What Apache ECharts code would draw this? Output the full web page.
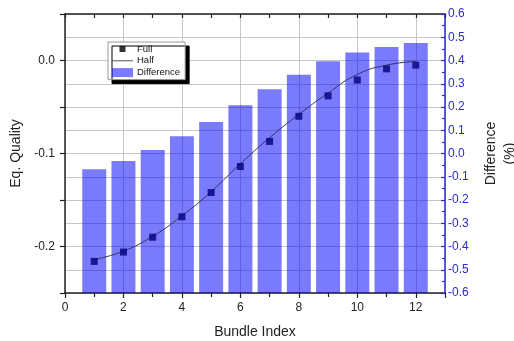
<!DOCTYPE html>
<html>
<head>
<meta charset="utf-8">
<script src="https://cdn.jsdelivr.net/npm/echarts@6/dist/echarts.min.js"></script>
<style>
html,body{margin:0;padding:0;background:#fff;}
#chart{width:514px;height:341px;}
</style>
</head>
<body>
<div id="chart"></div>
<script>
// ---- data ----
const bundleIndex = [1, 2, 3, 4, 5, 6, 7, 8, 9, 10, 11, 12];
const fullValues = [-0.216, -0.206, -0.190, -0.168, -0.142, -0.114, -0.087, -0.060, -0.038, -0.021, -0.009, -0.005];
const halfValues = [-0.214, -0.205, -0.189, -0.167, -0.141, -0.111, -0.083, -0.058, -0.035, -0.015, -0.005, -0.001];
const diffValues = [-0.068, -0.032, 0.015, 0.074, 0.135, 0.207, 0.276, 0.339, 0.397, 0.434, 0.458, 0.475];
const xRange = [0, 13];
const leftRange = [-0.25, 0.05];
const rightRange = [-0.6, 0.6];

const FONT = 'Arial, "Liberation Sans", sans-serif';
const BLUE = '#2a2ad8';
const BAR_UNITS = 0.82;

const chart = echarts.init(document.getElementById('chart'), null, {renderer: 'canvas'});

const option = {
  backgroundColor: '#fff',
  animation: false,
  textStyle: {fontFamily: FONT},
  grid: {left: 65, right: 69, top: 14, bottom: 48, containLabel: false, outerBoundsMode: 'none'},
  legend: {
    orient: 'vertical',
    left: 108, top: 42,
    padding: [2, 5, 2, 4],
    itemWidth: 21, itemHeight: 9, itemGap: 1.8,
    backgroundColor: '#fff',
    borderColor: '#999', borderWidth: 1,
    shadowColor: '#000', shadowBlur: 0, shadowOffsetX: 4, shadowOffsetY: 4,
    textStyle: {fontSize: 9.5, color: '#111', fontFamily: FONT, padding: [0, 0, 0, -1]},
    data: [
      {name: 'Full', icon: 'path://M0,0M21,9M7.5,1.5h6v6h-6z', itemStyle: {color: '#000'}},
      {name: 'Half', icon: 'path://M0,0M21,9M0,4h21v1h-21z', itemStyle: {color: '#555'}},
      {name: 'Difference', icon: 'rect'}
    ]
  },
  xAxis: [{
    type: 'value', position: 'bottom',
    min: xRange[0], max: xRange[1], interval: 2,
    name: 'Bundle Index', nameLocation: 'middle', nameGap: 32,
    nameTextStyle: {fontSize: 14, color: '#222', fontFamily: FONT},
    axisLine: {show: true, onZero: false, lineStyle: {color: '#222', width: 1.5}},
    axisTick: {show: true, inside: false, length: 5, lineStyle: {color: '#222', width: 1.2}},
    minorTick: {show: true, splitNumber: 2, length: 4, lineStyle: {color: '#222', width: 1.2}},
    axisLabel: {fontSize: 12, color: '#222', margin: 9, showMaxLabel: false, fontFamily: FONT},
    splitLine: {show: true, lineStyle: {color: '#c6c6c6', width: 1}}
  }, {
    type: 'value', position: 'top',
    min: xRange[0], max: xRange[1], interval: 1,
    axisLine: {show: true, onZero: false, lineStyle: {color: '#222', width: 1.5}},
    axisTick: {show: true, inside: true, length: 4, lineStyle: {color: '#222', width: 1.2}},
    axisLabel: {show: false},
    splitLine: {show: false}
  }],
  yAxis: [{
    type: 'value', position: 'left',
    min: leftRange[0], max: leftRange[1], interval: 0.05,
    name: 'Eq. Quality', nameLocation: 'middle', nameGap: 38, nameRotate: 90,
    nameTextStyle: {fontSize: 14, color: '#222', fontFamily: FONT},
    axisLine: {show: true, onZero: false, lineStyle: {color: '#222', width: 1.5}},
    axisTick: {show: true, inside: false, length: 5, lineStyle: {color: '#222', width: 1.2}},
    axisLabel: {
      fontSize: 12, color: '#222', margin: 10, fontFamily: FONT,
      formatter: function (v) {
        const k = Math.round(v * 100);
        if (k % 10 !== 0) return '';
        return (k / 100).toFixed(1);
      }
    },
    splitLine: {show: false}
  }, {
    type: 'value', position: 'right',
    min: rightRange[0], max: rightRange[1], interval: 0.1,
    name: 'Difference\n(%)', nameLocation: 'middle', nameGap: 37, nameRotate: 90,
    nameTextStyle: {fontSize: 14, color: '#222', fontFamily: FONT, lineHeight: 19, align: 'center'},
    axisLine: {show: true, onZero: false, lineStyle: {color: BLUE, width: 1.5}},
    axisTick: {show: true, inside: true, length: 4, lineStyle: {color: BLUE, width: 1.2}},
    minorTick: {show: true, splitNumber: 2, length: 3, lineStyle: {color: BLUE, width: 1.2}},
    axisLabel: {
      fontSize: 12, color: BLUE, margin: 3, fontFamily: FONT,
      formatter: function (v) { return (Math.round(v * 10) / 10).toFixed(1); }
    },
    splitLine: {show: true, lineStyle: {color: '#c6c6c6', width: 1}}
  }],
  series: [{
    name: 'Difference',
    type: 'custom',
    xAxisIndex: 0, yAxisIndex: 1,
    z: 1,
    itemStyle: {color: 'rgba(0,0,250,0.52)'},
    data: bundleIndex.map((x, i) => [x, diffValues[i]]),
    renderItem: function (params, api) {
      const x = api.value(0), v = api.value(1);
      const top = api.coord([x, v]);
      const bottom = api.coord([x, rightRange[0]]);
      const w = api.size([BAR_UNITS, 0])[0];
      return {
        type: 'rect',
        shape: {x: top[0] - w / 2, y: top[1], width: w, height: bottom[1] - top[1]},
        style: api.style()
      };
    }
  }, {
    name: 'Half',
    type: 'line',
    xAxisIndex: 0, yAxisIndex: 0,
    smooth: true,
    showSymbol: false, symbol: 'none',
    z: 3,
    lineStyle: {color: '#34345e', width: 1},
    itemStyle: {color: '#34345e'},
    data: bundleIndex.map((x, i) => [x, halfValues[i]])
  }, {
    name: 'Full',
    type: 'scatter',
    xAxisIndex: 0, yAxisIndex: 0,
    symbol: 'rect', symbolSize: 7,
    z: 4,
    itemStyle: {color: '#000080'},
    data: bundleIndex.map((x, i) => [x, fullValues[i]])
  }]
};

chart.setOption(option);
</script>
</body>
</html>
